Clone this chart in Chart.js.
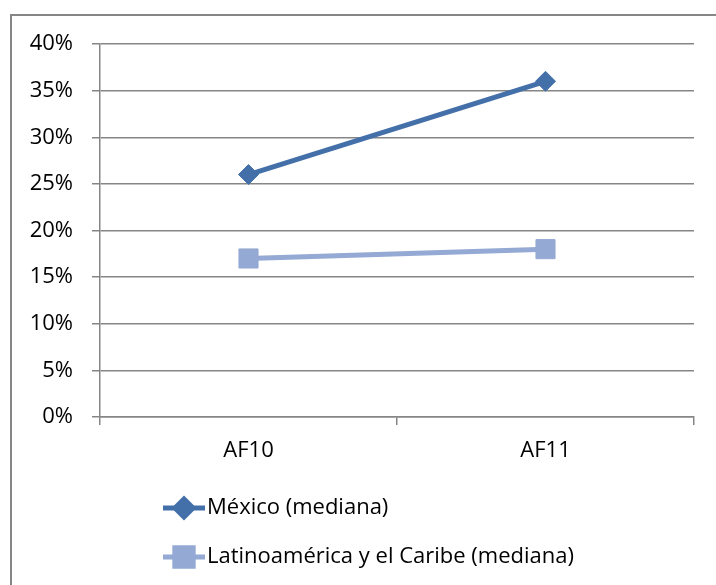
<!DOCTYPE html>
<html>
<head>
<meta charset="utf-8">
<script src="https://cdn.jsdelivr.net/npm/chart.js@4"></script>
<style>
  html, body { margin: 0; padding: 0; background: #fff; }
  #wrap { width: 716px; height: 585px; position: relative; }
</style>
</head>
<body>
<div id="wrap"><canvas id="chart"></canvas></div>
<script>
const categories = ['AF10', 'AF11'];
const mexicoValues = [26, 36];
const latamValues = [17, 18];
const seriesNames = ['México (mediana)', 'Latinoamérica y el Caribe (mediana)'];

const gridColor = '#868686';
const fontFamily = "'Open Sans', 'Liberation Sans', sans-serif";

// Rahmen + Legende im Excel-Stil (Linie mit Marker, untereinander)
const excelLook = {
  id: 'excelLook',
  afterDraw(chart) {
    const ctx = chart.ctx;
    ctx.save();
    ctx.strokeStyle = gridColor;
    ctx.lineWidth = 2;
    ctx.beginPath();
    ctx.moveTo(11, 600);
    ctx.lineTo(11, 15);
    ctx.lineTo(716, 15);
    ctx.stroke();

    const x0 = 163, x1 = 205;
    const rows = [508, 557];
    chart.data.datasets.forEach((ds, i) => {
      const y = rows[i];
      ctx.strokeStyle = ds.borderColor;
      ctx.lineWidth = ds.borderWidth;
      ctx.beginPath();
      ctx.moveTo(x0, y);
      ctx.lineTo(x1, y);
      ctx.stroke();
      Chart.helpers.drawPoint(ctx, {
        pointStyle: ds.pointStyle,
        radius: ds.legendRadius,
        borderWidth: 1,
        rotation: 0
      }, (x0 + x1) / 2, y);
      ctx.fillStyle = ds.backgroundColor;
      ctx.strokeStyle = ds.backgroundColor;
      ctx.fill();
      ctx.fillStyle = '#000';
      ctx.font = '22px ' + fontFamily;
      ctx.textBaseline = 'middle';
      ctx.textAlign = 'left';
      ctx.fillText(ds.label, x1 + 2, y);
    });
    ctx.restore();
  }
};

new Chart(document.getElementById('chart'), {
  type: 'line',
  data: {
    labels: categories,
    datasets: [{
      label: seriesNames[0],
      data: mexicoValues,
      borderColor: '#4470aa',
      backgroundColor: '#4470aa',
      borderWidth: 5,
      pointStyle: 'rectRot',
      pointRadius: 10,
      pointHoverRadius: 10,
      pointBorderWidth: 1,
      legendRadius: 9
    }, {
      label: seriesNames[1],
      data: latamValues,
      borderColor: '#94a9d3',
      backgroundColor: '#94a9d3',
      borderWidth: 5,
      pointStyle: 'rect',
      pointRadius: 13.5,
      pointHoverRadius: 13.5,
      pointBorderWidth: 1,
      legendRadius: 13
    }]
  },
  options: {
    responsive: true,
    maintainAspectRatio: false,
    animation: false,
    layout: {
      padding: { left: 29, right: 22, top: 44, bottom: 108 }
    },
    scales: {
      x: {
        offset: true,
        afterFit(scale) { scale.height = 60; },
        grid: {
          offset: true,
          drawOnChartArea: false,
          drawTicks: true,
          tickLength: 8,
          color: gridColor,
          lineWidth: 1.5
        },
        border: { color: gridColor, width: 1.5 },
        ticks: {
          color: '#000',
          padding: 13,
          font: { size: 22, family: fontFamily }
        }
      },
      y: {
        min: 0,
        max: 40,
        afterFit(scale) { scale.width = 71; },
        grid: {
          color: gridColor,
          lineWidth: 1.5,
          tickLength: 8
        },
        border: { color: gridColor, width: 1.5 },
        ticks: {
          stepSize: 5,
          color: '#000',
          padding: 19,
          font: { size: 22, family: fontFamily },
          callback: v => v + '%'
        }
      }
    },
    plugins: {
      legend: { display: false },
      tooltip: { enabled: false }
    }
  },
  plugins: [excelLook]
});
</script>
</body>
</html>
